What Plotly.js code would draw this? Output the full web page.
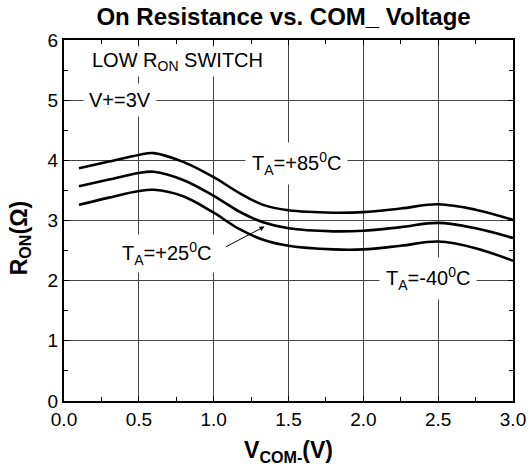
<!DOCTYPE html>
<html>
<head>
<meta charset="utf-8">
<script src="https://cdn.plot.ly/plotly-3.0.1.min.js"></script>
<style>body{margin:0;padding:0;background:#fff;}#chart{width:530px;height:475px;}</style>
</head>
<body>
<div id="chart"></div>
<script>
var vcom = [0.1, 0.3, 0.5, 0.6, 0.8, 1.0, 1.17, 1.33, 1.5, 1.8, 2.0, 2.25, 2.5, 2.75, 3.0];
var ron85 = [3.87, 3.98, 4.09, 4.12, 3.97, 3.72, 3.46, 3.26, 3.17, 3.13, 3.14, 3.20, 3.27, 3.18, 3.01];
var ron25 = [3.57, 3.68, 3.79, 3.81, 3.67, 3.41, 3.15, 2.97, 2.87, 2.82, 2.83, 2.89, 2.96, 2.87, 2.71];
var ronM40 = [3.26, 3.38, 3.49, 3.51, 3.40, 3.13, 2.86, 2.68, 2.58, 2.52, 2.52, 2.58, 2.65, 2.54, 2.33];
var xTicks = [0, 0.5, 1.0, 1.5, 2.0, 2.5, 3.0];
var xTickText = ['0.0', '0.5', '1.0', '1.5', '2.0', '2.5', '3.0'];
var yTicks = [0, 1, 2, 3, 4, 5, 6];

var lineStyle = {color: '#000', width: 2.6, shape: 'spline', smoothing: 1};
var traces = [ron85, ron25, ronM40].map(function (ys) {
  return {x: vcom, y: ys, mode: 'lines', type: 'scatter', line: lineStyle, hoverinfo: 'skip'};
});

var font = 'Liberation Sans, Arial, Helvetica, sans-serif';
var lbl = {family: font, size: 20, color: '#000'};

var layout = {
  width: 530, height: 475,
  margin: {l: 64, r: 17, t: 40, b: 74},
  paper_bgcolor: '#fff', plot_bgcolor: '#fff',
  showlegend: false,
  title: {text: '<b>On Resistance vs. COM_ Voltage</b>', font: {family: font, size: 24, color: '#000'}, x: 0.535, xanchor: 'center', y: 0.965, yanchor: 'middle'},
  xaxis: {
    range: [0, 3], tickvals: xTicks, ticktext: xTickText,
    showgrid: true, gridcolor: '#444', gridwidth: 1,
    showline: true, linecolor: '#000', linewidth: 2, mirror: 'ticks',
    ticks: 'inside', ticklen: 5, tickcolor: '#000',
    minor: {dtick: 0.25, ticks: 'inside', ticklen: 4, tickcolor: '#000', showgrid: false},
    zeroline: false,
    tickfont: {family: font, size: 19, color: '#000'},
    title: {text: '<b>V<sub>COM-</sub>(V)</b>', font: {family: font, size: 23, color: '#000'}, standoff: 13}
  },
  yaxis: {
    range: [0, 6], tickvals: yTicks,
    showgrid: true, gridcolor: '#444', gridwidth: 1,
    showline: true, linecolor: '#000', linewidth: 2, mirror: 'ticks',
    ticks: 'inside', ticklen: 5, tickcolor: '#000',
    minor: {dtick: 0.5, ticks: 'inside', ticklen: 4, tickcolor: '#000', showgrid: false},
    zeroline: false,
    tickfont: {family: font, size: 19, color: '#000'}
  },
  annotations: [
    {x: -0.097, y: 0.452, xref: 'paper', yref: 'paper', xanchor: 'center', yanchor: 'middle', showarrow: false,
     textangle: -90, text: '<b>R<sub>ON</sub>(Ω)</b>', font: {family: font, size: 23, color: '#000'}},
    {x: 0.17, y: 5.64, xref: 'x', yref: 'y', xanchor: 'left', yanchor: 'middle', showarrow: false,
     text: 'LOW R<sub>ON</sub> SWITCH', font: lbl, bgcolor: '#fff', borderpad: 2},
    {x: 0.13, y: 5.0, xref: 'x', yref: 'y', xanchor: 'left', yanchor: 'middle', showarrow: false,
     text: 'V+=3V', font: lbl, bgcolor: '#fff', borderpad: 5},
    {x: 1.555, y: 3.95, xref: 'x', yref: 'y', xanchor: 'center', yanchor: 'middle', showarrow: false,
     text: 'T<sub>A</sub>=+85<sup>0</sup>C', font: lbl, bgcolor: '#fff', borderpad: 6},
    {x: 0.685, y: 2.45, xref: 'x', yref: 'y', xanchor: 'center', yanchor: 'middle', showarrow: false,
     text: 'T<sub>A</sub>=+25<sup>0</sup>C', font: lbl, bgcolor: '#fff', borderpad: 4},
    {x: 2.43, y: 2.04, xref: 'x', yref: 'y', xanchor: 'center', yanchor: 'middle', showarrow: false,
     text: 'T<sub>A</sub>=-40<sup>0</sup>C', font: lbl, bgcolor: '#fff', borderpad: 6},
    {x: 1.34, y: 2.9, xref: 'x', yref: 'y', text: '', showarrow: true, arrowhead: 2, arrowsize: 1,
     arrowwidth: 1, arrowcolor: '#000', ax: -40, ay: 21, standoff: 0}
  ]
};

Plotly.newPlot('chart', traces, layout, {displayModeBar: false, staticPlot: true});
</script>
</body>
</html>
